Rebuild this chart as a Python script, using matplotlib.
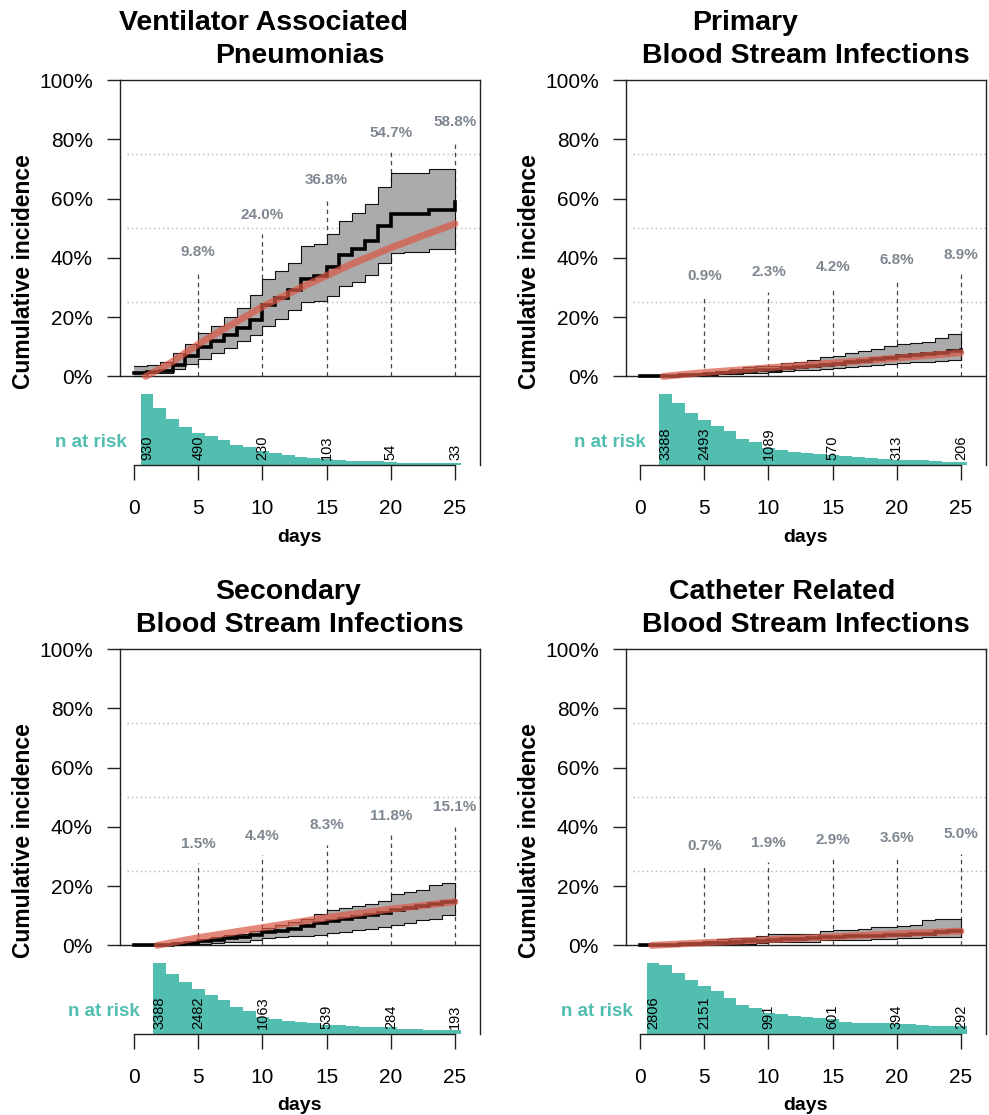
import matplotlib
matplotlib.use("Agg")
import matplotlib.pyplot as plt
import numpy as np

plt.rcParams['font.family'] = ['Liberation Sans', 'DejaVu Sans']

# ---------------- data ----------------
days = list(range(0, 26))

# Ventilator Associated Pneumonias
vap_est = [1.1, 1.5, 1.7, 4.0, 7.0, 9.8, 12.0, 14.0, 16.3, 19.0, 24.0, 26.5, 29.0, 33.0, 34.0, 36.8,
           41.0, 43.0, 45.6, 50.7, 54.7, 54.7, 54.7, 56.3, 56.3, 58.8]
vap_lo = [0.0, 1.0, 1.0, 2.5, 4.3, 6.0, 8.0, 9.6, 11.8, 14.0, 17.0, 19.4, 22.5, 25.0, 25.3, 27.0,
          30.4, 32.0, 34.3, 38.3, 41.7, 42.0, 42.0, 43.0, 43.0, 43.0]
vap_hi = [3.4, 4.0, 5.0, 8.0, 11.0, 14.6, 17.0, 20.0, 23.0, 27.6, 33.0, 35.5, 38.3, 44.0, 44.5, 47.9,
          52.4, 55.0, 58.2, 64.0, 68.5, 68.5, 68.5, 70.0, 70.0, 70.0]
vap_fit_days = [0.9] + list(range(2, 26))
vap_fit = [0, 2.5, 5, 8, 10.8, 13.5, 16, 18.5, 21, 23.5, 25.7, 27.8, 30, 32, 34, 36, 38, 39.8, 41.6,
           43.4, 45, 46.7, 48.3, 49.9, 51.5]
vap_bar_days = list(range(1, 26))
vap_n = [1135, 908, 740, 605, 513, 459, 395, 324, 281, 227, 200, 162, 135, 108, 97, 81, 70, 65, 59,
         54, 38, 35, 35, 33, 33]
vap_nlab_days = [1, 5, 10, 15, 20, 25]
vap_nlab = [930, 490, 230, 103, 54, 33]
vap_pct = [9.8, 24.0, 36.8, 54.7, 58.8]

# Primary Blood Stream Infections
pbsi_est = [0, 0, 0.1, 0.3, 0.6, 0.9, 1.2, 1.5, 1.9, 2.1, 2.3, 2.8, 3.2, 3.6, 3.9, 4.2, 4.8, 5.3,
            5.8, 6.3, 6.8, 7.1, 7.4, 7.8, 8.6, 8.9]
pbsi_lo = [0, 0, 0, 0.1, 0.3, 0.5, 0.7, 0.9, 1.1, 1.3, 1.4, 1.7, 2.0, 2.3, 2.6, 2.8, 3.2, 3.6, 4.0,
           4.3, 4.6, 4.8, 5.0, 5.2, 5.5, 5.8]
pbsi_hi = [0, 0, 0.3, 0.7, 1.0, 1.4, 1.9, 2.4, 3.0, 3.6, 3.6, 4.5, 5.0, 5.5, 6.6, 6.9, 8.0, 8.5,
           9.2, 10.3, 11.0, 11.3, 11.6, 13.0, 14.3, 14.3]
pbsi_fit_days = [1.8, 5, 10, 15, 20, 25]
pbsi_fit = [0, 1.3, 2.9, 4.5, 6.2, 8.0]
pbsi_bar_days = list(range(2, 26))
pbsi_n = [3388, 2952, 2500, 2145, 1887, 1645, 1242, 1081, 807, 694, 613, 565, 532, 484, 436, 371,
          323, 274, 242, 242, 226, 210, 161, 161]
pbsi_nlab_days = [2, 5, 10, 15, 20, 25]
pbsi_nlab = [3388, 2493, 1089, 570, 313, 206]
pbsi_pct = [0.9, 2.3, 4.2, 6.8, 8.9]

# Secondary Blood Stream Infections
sbsi_est = [0, 0, 0.1, 0.4, 0.9, 1.5, 1.9, 2.4, 2.9, 3.6, 4.4, 4.9, 5.6, 6.6, 7.5, 8.3, 8.9, 9.5,
            10.1, 11.0, 11.8, 12.5, 13.2, 13.9, 14.6, 15.1]
sbsi_lo = [0, 0, 0, 0.1, 0.3, 0.6, 0.8, 1.0, 1.3, 1.8, 2.5, 2.8, 3.0, 3.3, 3.6, 4.2, 4.6, 5.1, 5.6,
           6.2, 6.8, 7.5, 8.4, 9.0, 10.1, 10.1]
sbsi_hi = [0, 0, 0.4, 1.0, 1.6, 2.3, 2.8, 3.4, 4.0, 4.8, 5.8, 6.8, 7.9, 9.0, 10.7, 11.8, 12.6, 13.2,
           14.1, 14.9, 17.5, 18.0, 18.8, 20.3, 21.0, 21.0]
sbsi_fit_days = [1.8, 5, 10, 15, 20, 25]
sbsi_fit = [0, 2.6, 6.0, 9.4, 12.2, 14.7]
sbsi_bar_days = list(range(2, 26))
sbsi_n = [3389, 2871, 2479, 2165, 1883, 1616, 1271, 1098, 832, 722, 628, 565, 518, 439, 408, 377,
          330, 314, 314, 251, 251, 204, 188, 173]
sbsi_nlab_days = [2, 5, 10, 15, 20, 25]
sbsi_nlab = [3388, 2482, 1063, 539, 284, 193]
sbsi_pct = [1.5, 4.4, 8.3, 11.8, 15.1]

# Catheter Related Blood Stream Infections
crbsi_est = [0, 0.05, 0.2, 0.35, 0.5, 0.7, 0.95, 1.2, 1.4, 1.6, 1.9, 2.1, 2.3, 2.5, 2.7, 2.9, 3.0,
             3.1, 3.3, 3.4, 3.6, 3.8, 4.0, 4.5, 4.8, 5.0]
crbsi_lo = [0, 0, 0, 0.05, 0.1, 0.2, 0.3, 0.45, 0.6, 0.75, 1.0, 1.1, 1.1, 1.1, 1.7, 1.7, 1.7, 1.7,
            2.3, 2.3, 2.6, 2.6, 2.8, 2.8, 2.8, 2.8]
crbsi_hi = [0, 0.3, 0.6, 0.9, 1.2, 1.5, 2.0, 2.5, 2.5, 3.0, 3.7, 3.7, 3.7, 3.7, 4.7, 5.1, 5.1, 5.6,
            6.2, 6.2, 6.5, 7.0, 8.4, 9.0, 9.0, 9.0]
crbsi_fit_days = [0.9, 5, 10, 15, 20, 25]
crbsi_fit = [0, 0.9, 1.9, 2.9, 3.9, 4.8]
crbsi_bar_days = list(range(1, 26))
crbsi_n = [2806, 2741, 2416, 2156, 1884, 1689, 1442, 1143, 1013, 818, 792, 727, 688, 650, 598, 494,
           455, 442, 416, 403, 390, 364, 325, 299, 325]
crbsi_nlab_days = [1, 5, 10, 15, 20, 25]
crbsi_nlab = [2806, 2151, 991, 601, 394, 292]
crbsi_pct = [0.7, 1.9, 2.9, 3.6, 5.0]

pct_days = [5, 10, 15, 20, 25]
y_ticks = [0, 20, 40, 60, 80, 100]
x_ticks = [0, 5, 10, 15, 20, 25]

titles = [("Ventilator Associated", "Pneumonias"),
          ("Primary", "Blood Stream Infections"),
          ("Secondary", "Blood Stream Infections"),
          ("Catheter Related", "Blood Stream Infections")]

# ---------------- style ----------------
W, H = 989, 1115
TEAL = '#52BEB0'
RED = '#DA5A48'
BAND = '#ABABAB'
LBL = '#7E8791'
YMIN = -29.9

fig = plt.figure(figsize=(W / 100, H / 100), dpi=100)


def panel(left, top, title, title1_cx, est, lo, hi, fit_d, fit_v, bar_d, bar_n, nlab_d, nlab, pct):
    ax = fig.add_axes([left / W, 1 - (top + 385) / H, 360 / W, 385 / H])
    ax.set_xlim(-1.1, 26.95)
    ax.set_ylim(YMIN, 100)
    for s in ['top', 'right', 'left', 'bottom']:
        ax.spines[s].set_color('#222222')
        ax.spines[s].set_linewidth(1.0)
    ax.spines['left'].set_bounds(0, 100)
    ax.spines['bottom'].set_bounds(0, 25)
    ax.axhline(0, color='#222222', lw=1.0, zorder=1)

    ax.set_yticks(y_ticks)
    ax.set_yticklabels([f"{v}%" for v in y_ticks])
    ax.set_xticks(x_ticks)
    ax.tick_params(axis='y', length=9.5, width=1.0, pad=10, labelsize=15, color='#222222')
    ax.tick_params(axis='x', length=10.5, width=1.0, pad=14, labelsize=15, color='#222222')

    # dotted reference lines
    for g in [25, 50, 75]:
        ax.plot([-0.55, 26.95], [g, g], color='#B5B5B5', lw=1.0, ls=(0, (1, 2.2)), zorder=0.5)

    # dashed markers and percentage labels
    for d, v in zip(pct_days, pct):
        ly = 0.9 * v + 33
        ax.plot([d, d], [0, ly - 6.5], color='#444444', lw=0.9, ls=(0, (3.5, 3)), zorder=1)
        ax.text(d, ly, f"{v:.1f}%", color=LBL, fontsize=11, fontweight='bold',
                ha='center', va='center', zorder=6)

    # confidence band
    ax.fill_between(days, lo, hi, step='post', color=BAND, lw=0, zorder=2)
    ax.plot(days, hi, drawstyle='steps-post', color='#111111', lw=0.8, zorder=2.5)
    ax.plot(days, lo, drawstyle='steps-post', color='#111111', lw=0.8, zorder=2.5)
    ax.plot([days[-1], days[-1]], [lo[-1], hi[-1]], color='#111111', lw=0.8, zorder=2.5)
    # estimate
    ax.plot(days, est, drawstyle='steps-post', color='black', lw=2.6, zorder=3,
            solid_joinstyle='miter')
    # smooth fit
    ax.plot(fit_d, fit_v, color=RED, lw=5, alpha=0.72, zorder=4, solid_capstyle='round')

    # n at risk histogram
    scale = 23.9 / max(bar_n)
    ax.bar(bar_d, [n * scale for n in bar_n], bottom=YMIN, width=1.0, color=TEAL, lw=0, zorder=2)
    for d, n in zip(nlab_d, nlab):
        ax.text(d, -28.1, str(n), rotation=90, fontsize=10.5, ha='center', va='bottom', zorder=6)
    ax.text(bar_d[0] - 1.55, -22.4, "n at risk", color=TEAL, fontsize=13.5, fontweight='bold',
            ha='right', va='center')

    # axis titles
    cx = left + 180
    fig.text(cx / W, 1 - (top + 457) / H, "days", fontsize=14, fontweight='bold',
             ha='center', va='center')
    fig.text((left - 96) / W, 1 - (top + 192) / H, "Cumulative incidence", fontsize=16.5,
             fontweight='bold', rotation=90, ha='center', va='center')
    fig.text(title1_cx / W, 1 - (top - 57) / H, title[0], fontsize=20.5, fontweight='bold',
             ha='center', va='center')
    fig.text(cx / W, 1 - (top - 24) / H, title[1], fontsize=20.5, fontweight='bold',
             ha='center', va='center')
    return ax


panel(120, 80, titles[0], 263, vap_est, vap_lo, vap_hi, vap_fit_days, vap_fit,
      vap_bar_days, vap_n, vap_nlab_days, vap_nlab, vap_pct)
panel(626, 80, titles[1], 745, pbsi_est, pbsi_lo, pbsi_hi, pbsi_fit_days, pbsi_fit,
      pbsi_bar_days, pbsi_n, pbsi_nlab_days, pbsi_nlab, pbsi_pct)
panel(120, 649, titles[2], 288, sbsi_est, sbsi_lo, sbsi_hi, sbsi_fit_days, sbsi_fit,
      sbsi_bar_days, sbsi_n, sbsi_nlab_days, sbsi_nlab, sbsi_pct)
panel(626, 649, titles[3], 782, crbsi_est, crbsi_lo, crbsi_hi, crbsi_fit_days, crbsi_fit,
      crbsi_bar_days, crbsi_n, crbsi_nlab_days, crbsi_nlab, crbsi_pct)

fig.savefig("out.png", dpi=100)
